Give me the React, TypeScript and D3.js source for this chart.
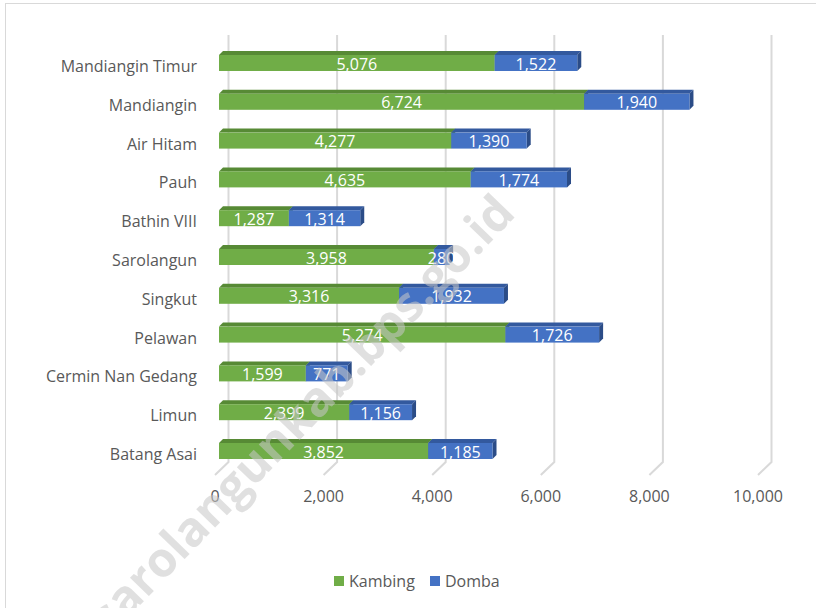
import React from 'react';
import * as d3 from 'd3';

const categories = ['Mandiangin Timur', 'Mandiangin', 'Air Hitam', 'Pauh', 'Bathin VIII', 'Sarolangun', 'Singkut', 'Pelawan', 'Cermin Nan Gedang', 'Limun', 'Batang Asai'];
const kambing = [5076, 6724, 4277, 4635, 1287, 3958, 3316, 5274, 1599, 2399, 3852];
const domba = [1522, 1940, 1390, 1774, 1314, 280, 1932, 1726, 771, 1156, 1185];
const ticks = [0, 2000, 4000, 6000, 8000, 10000];
const seriesNames = ['Kambing', 'Domba'];

const W = 816, H = 608;
const font = '"Open Sans", sans-serif';
const fs = 16;
const colors = [
    {front: '#70AD47', top: '#578a35', side: '#4a7a2c'},
    {front: '#4472C4', top: '#33599e', side: '#2b4c87'}
];
const depth = 4;

export default function App() {
    const x = d3.scaleLinear().domain([0, 10000]).range([219, 762]);
    const y = d3.scaleBand().domain(categories).range([43.6, 470.4]).paddingInner(0.588).paddingOuter(0.294);
    const bw = y.bandwidth();
    const fmt = d3.format(',');

    const rows = categories.map((c, i) => {
        const vals = [kambing[i], domba[i]];
        let acc = 0;
        return vals.map((v, s) => {
            const seg = {cat: c, s, v, x0: x(acc), x1: x(acc + v)};
            acc += v;
            return seg;
        });
    });

    return (
        <svg width={W} height={H} style={{position: 'absolute', left: 0, top: 0}}>
            <rect x={0} y={0} width={W} height={H} fill="#fff"/>
            <rect x={5.5} y={3.5} width={W} height={H} fill="none" stroke="#d9d9d9"/>
            {ticks.map(t => (
                <g key={t}>
                    <polyline
                        points={`${x(t) + 9.5},35 ${x(t) + 9.5},462 ${x(t) - 4},475`}
                        fill="none" stroke="#d9d9d9" strokeWidth={2}/>
                    <text x={x(t) - 4} y={496} textAnchor="middle" dominantBaseline="central"
                          fontFamily={font} fontSize={fs} fill="#595959">{fmt(t)}</text>
                </g>
            ))}
            {categories.map(c => (
                <text key={c} x={197} y={(y(c) as number) + bw / 2 + 3} textAnchor="end" dominantBaseline="central"
                      fontFamily={font} fontSize={fs} fill="#595959">{c}</text>
            ))}
            {rows.map((segs, i) => (
                <g key={i}>
                    {segs.map(seg => {
                        const yt = y(seg.cat) as number;
                        const col = colors[seg.s];
                        return (
                            <g key={seg.s}>
                                <polygon points={`${seg.x0},${yt} ${seg.x0 + depth},${yt - depth} ${seg.x1 + depth},${yt - depth} ${seg.x1},${yt}`} fill={col.top}/>
                                <polygon points={`${seg.x1},${yt} ${seg.x1 + depth},${yt - depth} ${seg.x1 + depth},${yt + bw - depth} ${seg.x1},${yt + bw}`} fill={col.side}/>
                                <rect x={seg.x0} y={yt} width={seg.x1 - seg.x0} height={bw} fill={col.front}/>
                            </g>
                        );
                    })}
                    {segs.map(seg => (
                        <text key={'l' + seg.s} x={(seg.x0 + seg.x1) / 2} y={(y(seg.cat) as number) + bw / 2 + 0.5}
                              textAnchor="middle" dominantBaseline="central" fontFamily={font} fontSize={fs} fill="#fff">
                            {fmt(seg.v)}
                        </text>
                    ))}
                </g>
            ))}
            <g>
                <rect x={334} y={576} width={10} height={10} fill={colors[0].front}/>
                <text x={349} y={581} dominantBaseline="central" fontFamily={font} fontSize={fs} fill="#595959">{seriesNames[0]}</text>
                <rect x={430} y={576} width={10} height={10} fill={colors[1].front}/>
                <text x={445} y={581} dominantBaseline="central" fontFamily={font} fontSize={fs} fill="#595959">{seriesNames[1]}</text>
            </g>
            <text x={300} y={413} transform="rotate(-46 300 413)" textAnchor="middle" dominantBaseline="central"
                  fontFamily={font} fontWeight="bold" fontSize={48} fill="#c8c8c8" opacity={0.55}>
                sarolangunkab.bps.go.id
            </text>
        </svg>
    );
}
